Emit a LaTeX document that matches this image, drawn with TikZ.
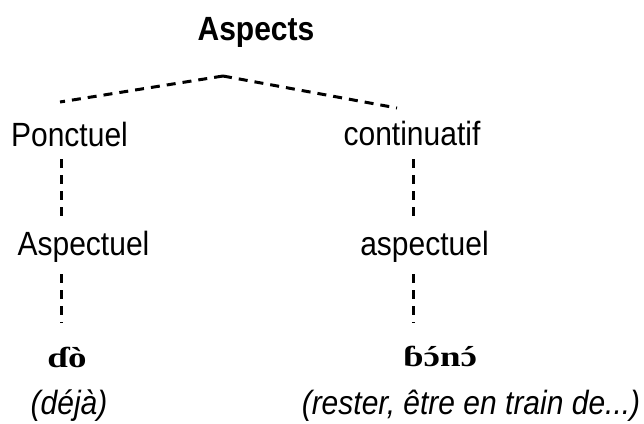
\documentclass[tikz,border=0pt]{standalone}
\usepackage{fontspec}
\usepackage{graphicx}
\setmainfont{Liberation Serif}
\newfontfamily\arialf{Liberation Sans}
\newcommand\mytall[1]{\scalebox{1}[1.12]{#1}}
\newcommand\myflat[1]{\scalebox{1}[0.78]{#1}}
\newcommand\myacu[1]{\accent"B4 #1}
\begin{document}
\begin{tikzpicture}[x=1pt,y=-1pt,
  lbl/.style={anchor=base,inner sep=0pt,font=\arialf\fontsize{30}{36}\selectfont},
  ttl/.style={anchor=base,inner sep=0pt,font=\arialf\bfseries\fontsize{30}{36}\selectfont},
  word/.style={anchor=base,inner sep=0pt,font=\bfseries\fontsize{37}{40}\selectfont},
  gloss/.style={anchor=base,inner sep=0pt,font=\arialf\itshape\fontsize{30}{36}\selectfont},
  link/.style={line width=3pt,dash pattern=on 9pt off 7pt}]
\useasboundingbox (0,0) rectangle (644,423);
\node[ttl] (asp) at (256,40) {\mytall{Aspects}};
\node[lbl] (pon) at (69.5,146) {\mytall{Ponctuel}};
\node[lbl] (con) at (412,145) {\mytall{continuatif}};
\node[lbl] (aspL) at (83.5,255) {\mytall{Aspectuel}};
\node[lbl] (aspR) at (424.5,255) {\mytall{aspectuel}};
\node[word] (do) at (67,367) {\myflat{ɗò}};
\node[word] (bono) at (440,366) {\myflat{ɓ\myacu{ɔ}n\myacu{ɔ}}};
\node[gloss] (deja) at (69,414) {\mytall{(déjà)}};
\node[gloss] (rest) at (471,414) {\mytall{(rester, être en train de...)}};
\coordinate (apex) at (223,76);
\coordinate (l1) at (60,102);
\coordinate (r1) at (397,108);
\coordinate (l2) at (61,159);
\coordinate (l3) at (61,223);
\coordinate (l4) at (61,274);
\coordinate (l5) at (61,323);
\coordinate (r2) at (413,159);
\coordinate (r3) at (413,223);
\coordinate (r4) at (413,274);
\coordinate (r5) at (413,323);
\draw[link] (apex) -- (l1);
\draw[link] (apex) -- (r1);
\draw[link] (l2) -- (l3);
\draw[link] (l4) -- (l5);
\draw[link] (r2) -- (r3);
\draw[link] (r4) -- (r5);
\end{tikzpicture}
\end{document}
